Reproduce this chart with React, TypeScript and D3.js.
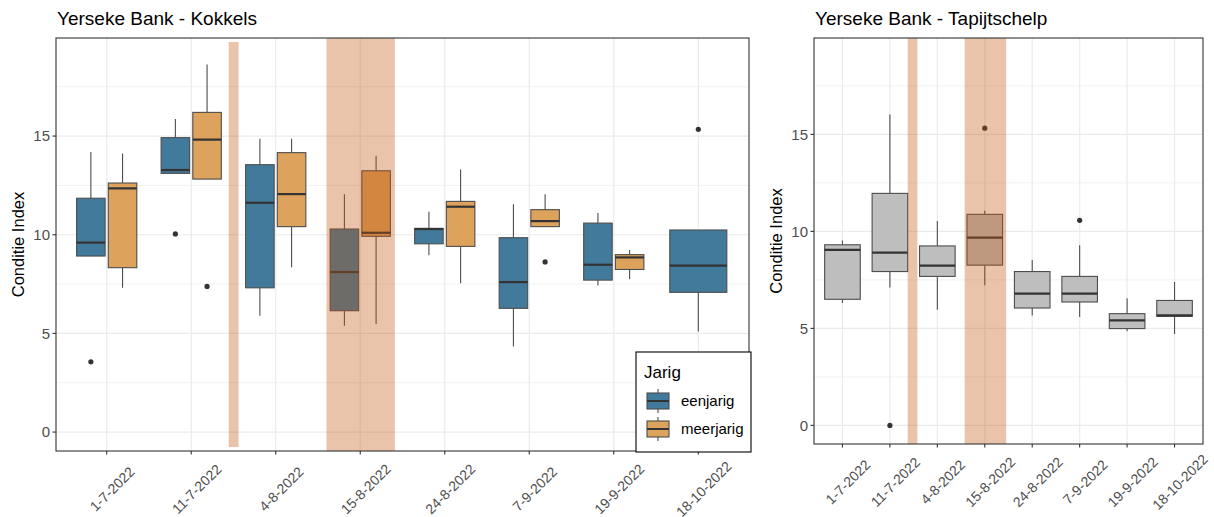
import React from "react";
import * as d3 from "d3";

// sampling dates (x categories)
const dates = ["1-7-2022", "11-7-2022", "4-8-2022", "15-8-2022", "24-8-2022", "7-9-2022", "19-9-2022", "18-10-2022"];

// box stats per date: [lower whisker, q1, median, q3, upper whisker]
const kokkelsEenjarig = [
  [8.92, 8.92, 9.6, 11.85, 14.19],
  [13.11, 13.11, 13.28, 14.92, 15.86],
  [5.9, 7.31, 11.62, 13.55, 14.87],
  [5.39, 6.15, 8.11, 10.29, 12.05],
  [8.96, 9.54, 10.29, 10.32, 11.17],
  [4.34, 6.27, 7.6, 9.85, 11.54],
  [7.43, 7.7, 8.48, 10.59, 11.1],
  [5.1, 7.08, 8.43, 10.24, 10.24],
];
const kokkelsEenjarigOut = [[3.56], [10.04], [], [], [], [], [], [15.34]];

const kokkelsMeerjarig = [
  [7.31, 8.33, 12.35, 12.62, 14.12],
  [12.82, 12.82, 14.82, 16.2, 18.63],
  [8.35, 10.41, 12.06, 14.16, 14.87],
  [5.47, 9.92, 10.1, 13.24, 14.0],
  [7.54, 9.41, 11.42, 11.69, 13.31],
  [10.41, 10.41, 10.69, 11.27, 12.05],
  [7.74, 8.24, 8.85, 8.99, 9.22],
  null,
];
const kokkelsMeerjarigOut = [[], [7.38], [], [], [], [8.62], [], []];

const tapijt = [
  [6.31, 6.5, 9.05, 9.31, 9.53],
  [7.11, 7.93, 8.91, 11.96, 16.03],
  [5.96, 7.68, 8.24, 9.25, 10.54],
  [7.23, 8.26, 9.68, 10.88, 11.07],
  [5.67, 6.05, 6.79, 7.93, 8.53],
  [5.59, 6.36, 6.79, 7.68, 9.29],
  [4.85, 4.99, 5.41, 5.76, 6.56],
  [4.71, 5.62, 5.67, 6.44, 7.39],
];
const tapijtOut = [[], [0], [], [15.32], [], [10.57], [], []];

// highlighted periods, x in category index units (0 = first date), y null = full height
const kokkelsPeriods = [
  { x0: 1.444, x1: 1.56, y0: -0.76, y1: 19.77 },
  { x0: 2.6, x1: 3.41, y0: null, y1: null },
];
const tapijtPeriods = [
  { x0: 1.375, x1: 1.58, y0: null, y1: null },
  { x0: 2.575, x1: 3.45, y0: null, y1: null },
];

const yTicks = [0, 5, 10, 15];
const yMinor = [2.5, 7.5, 12.5, 17.5];
const yDomain = [-0.96, 19.97];

const FONT = "'Liberation Sans', Arial, sans-serif";
const BLUE = "#427a9b";
const ORANGE = "#dda25c";
const GREY = "#bebebe";

type Box = { cx: number; w: number; s: number[]; out: number[]; fill: string };

function Panel({ left, right, top, bottom, title, boxes, periods }: any) {
  const x = d3.scalePoint<string>().domain(dates).range([left, right]).padding(0.6);
  const y = d3.scaleLinear().domain(yDomain).range([bottom, top]);
  const step = x.step();
  const xi = (i: number) => (x(dates[0]) as number) + i * step;
  const list: Box[] = boxes(x, step);
  return (
    <g>
      <text x={left + 1} y={25} fontSize={19} fontFamily={FONT} fill="#000">{title}</text>
      {/* grid */}
      {yMinor.map((v) => (
        <line key={"m" + v} x1={left} x2={right} y1={y(v)} y2={y(v)} stroke="#f2f2f2" strokeWidth={1} />
      ))}
      {dates.map((d) => (
        <line key={"gx" + d} x1={x(d)} x2={x(d)} y1={top} y2={bottom} stroke="#ebebeb" strokeWidth={1.2} />
      ))}
      {yTicks.map((v) => (
        <line key={"g" + v} x1={left} x2={right} y1={y(v)} y2={y(v)} stroke="#ebebeb" strokeWidth={1.2} />
      ))}
      {/* boxes */}
      {list.map((b, i) => {
        const [lo, q1, md, q3, hi] = b.s;
        return (
          <g key={i}>
            <line x1={b.cx} x2={b.cx} y1={y(hi)} y2={y(q3)} stroke="#4d4d4d" strokeWidth={1.1} />
            <line x1={b.cx} x2={b.cx} y1={y(q1)} y2={y(lo)} stroke="#4d4d4d" strokeWidth={1.1} />
            <rect x={b.cx - b.w / 2} width={b.w} y={y(q3)} height={y(q1) - y(q3)} fill={b.fill} stroke="#4d4d4d" strokeWidth={1.1} />
            <line x1={b.cx - b.w / 2} x2={b.cx + b.w / 2} y1={y(md)} y2={y(md)} stroke="#333" strokeWidth={2.2} />
            {b.out.map((o, j) => (
              <circle key={j} cx={b.cx} cy={y(o)} r={2.6} fill="#333" />
            ))}
          </g>
        );
      })}
      {/* highlighted periods */}
      {periods.map((p: any, i: number) => (
        <rect
          key={"p" + i}
          x={xi(p.x0)}
          width={xi(p.x1) - xi(p.x0)}
          y={p.y1 == null ? top : y(p.y1)}
          height={(p.y0 == null ? bottom : y(p.y0)) - (p.y1 == null ? top : y(p.y1))}
          fill="rgb(192,82,12)"
          fillOpacity={0.35}
        />
      ))}
      <rect x={left} y={top} width={right - left} height={bottom - top} fill="none" stroke="#333" strokeWidth={1.1} />
      {/* y axis */}
      {yTicks.map((v) => (
        <g key={"t" + v}>
          <line x1={left - 3.5} x2={left} y1={y(v)} y2={y(v)} stroke="#333" strokeWidth={1.1} />
          <text x={left - 6} y={y(v)} dy="0.35em" textAnchor="end" fontSize={15} fontFamily={FONT} fill="#4d4d4d">{v}</text>
        </g>
      ))}
      <text transform={`translate(${left - 38},${(top + bottom) / 2}) rotate(-90)`} textAnchor="middle" dy="0.35em" fontSize={16.5} fontFamily={FONT} fill="#000">Conditie Index</text>
      {/* x axis */}
      {dates.map((d) => (
        <g key={"xt" + d}>
          <line x1={x(d)} x2={x(d)} y1={bottom} y2={bottom + 3.5} stroke="#333" strokeWidth={1.1} />
          <text transform={`translate(${(x(d) as number) + 5.5},${bottom + 38}) rotate(-45)`} textAnchor="middle" dy="0.35em" fontSize={14} fontFamily={FONT} fill="#4d4d4d">{d}</text>
        </g>
      ))}
    </g>
  );
}

function LegendKey({ x, y, fill }: any) {
  return (
    <g>
      <line x1={x + 11} x2={x + 11} y1={y - 4} y2={y + 20} stroke="#4d4d4d" strokeWidth={1.1} />
      <rect x={x} y={y} width={22} height={16} fill={fill} stroke="#4d4d4d" strokeWidth={1.1} />
      <line x1={x} x2={x + 22} y1={y + 8} y2={y + 8} stroke="#333" strokeWidth={2} />
    </g>
  );
}

export default function App() {
  const kokBoxes = (x: any, step: number) => {
    const out: Box[] = [];
    dates.forEach((d, i) => {
      const c = x(d);
      const e = kokkelsEenjarig[i];
      const m = kokkelsMeerjarig[i];
      const full = 0.75 * step;
      if (m) {
        const slot = full / 2;
        out.push({ cx: c - slot / 2, w: slot * 0.9, s: e, out: kokkelsEenjarigOut[i], fill: BLUE });
        out.push({ cx: c + slot / 2, w: slot * 0.9, s: m, out: kokkelsMeerjarigOut[i], fill: ORANGE });
      } else {
        out.push({ cx: c, w: full * 0.9, s: e, out: kokkelsEenjarigOut[i], fill: BLUE });
      }
    });
    return out;
  };
  const tapBoxes = (x: any, step: number) =>
    dates.map((d, i) => ({ cx: x(d), w: 0.75 * step, s: tapijt[i], out: tapijtOut[i], fill: GREY }));

  return (
    <svg width={1214} height={517} style={{ position: "absolute", left: 0, top: 0, background: "#fff" }}>
      <rect width={1214} height={517} fill="#fff" />
      <Panel left={56} right={749} top={38} bottom={451} title="Yerseke Bank - Kokkels" boxes={kokBoxes} periods={kokkelsPeriods} />
      <Panel left={814} right={1203} top={38} bottom={444} title="Yerseke Bank - Tapijtschelp" boxes={tapBoxes} periods={tapijtPeriods} />
      {/* legend */}
      <g>
        <rect x={636} y={352} width={115} height={100} fill="#fff" stroke="#000" strokeWidth={1.1} />
        <text x={644} y={378} fontSize={17} fontFamily={FONT} fill="#000">Jarig</text>
        <LegendKey x={647} y={393} fill={BLUE} />
        <text x={681} y={401} dy="0.35em" fontSize={15} fontFamily={FONT} fill="#000">eenjarig</text>
        <LegendKey x={647} y={421} fill={ORANGE} />
        <text x={681} y={429} dy="0.35em" fontSize={15} fontFamily={FONT} fill="#000">meerjarig</text>
      </g>
    </svg>
  );
}
